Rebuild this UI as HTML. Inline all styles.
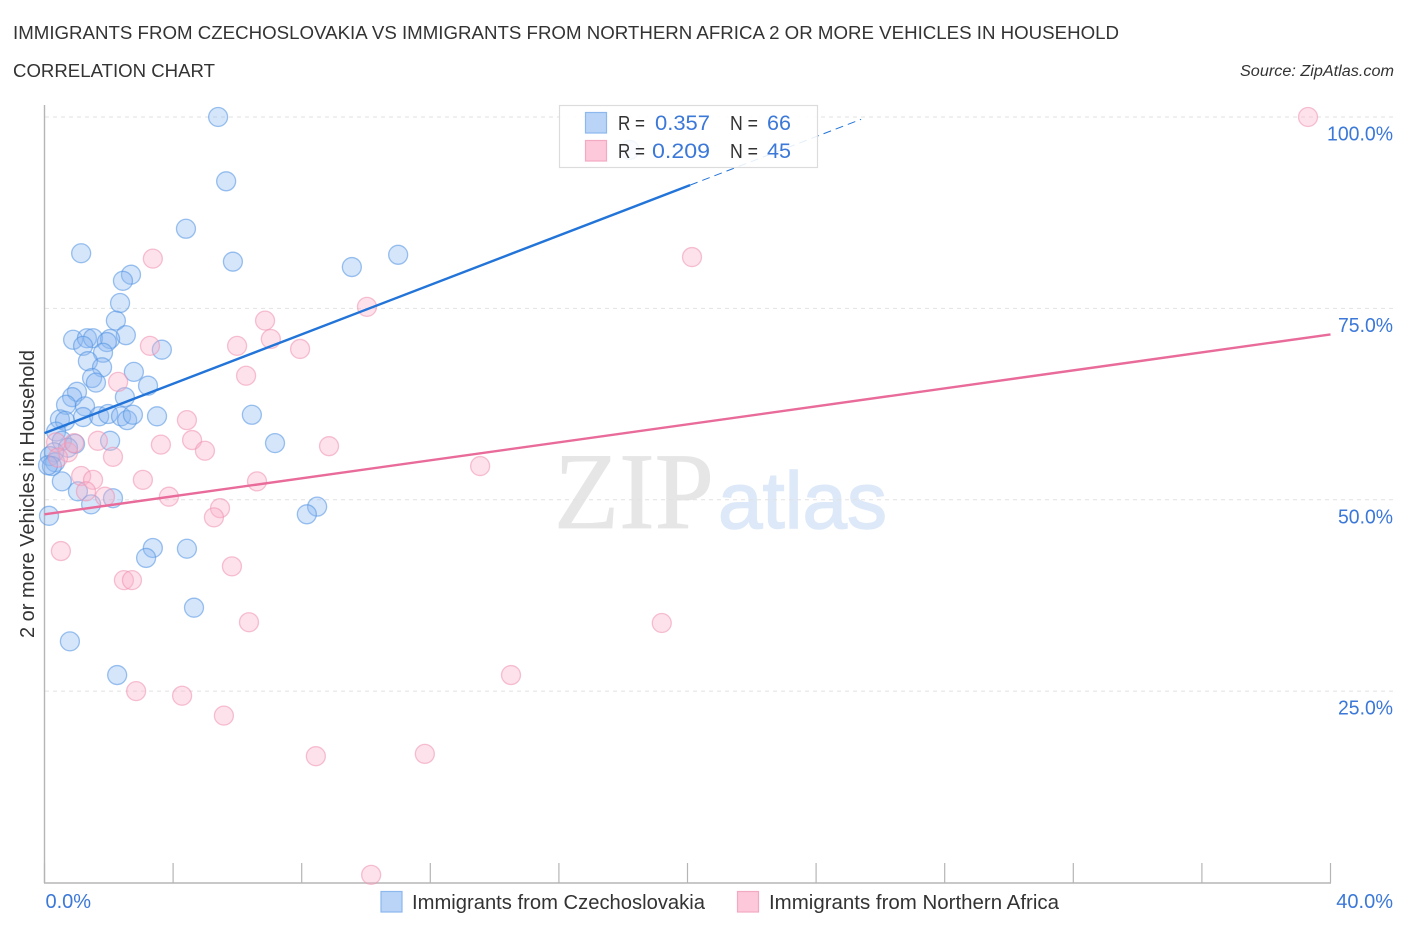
<!DOCTYPE html>
<html lang="en">
<head>
<meta charset="utf-8">
<title>Correlation Chart</title>
<style>
html,body{margin:0;padding:0;background:#fff;}
svg{display:block;font-family:"Liberation Sans",sans-serif;}
</style>
</head>
<body>
<svg id="chart" xmlns="http://www.w3.org/2000/svg" width="1406" height="930" viewBox="0 0 1406 930">
  <rect x="0" y="0" width="1406" height="930" fill="#ffffff"/>
  <text x="13" y="39" font-size="18.5" fill="#333" textLength="1106" lengthAdjust="spacingAndGlyphs">IMMIGRANTS FROM CZECHOSLOVAKIA VS IMMIGRANTS FROM NORTHERN AFRICA 2 OR MORE VEHICLES IN HOUSEHOLD</text>
  <text x="13" y="77" font-size="18.5" fill="#333" textLength="202" lengthAdjust="spacingAndGlyphs">CORRELATION CHART</text>
  <text x="1394" y="76" font-size="15.5" font-style="italic" fill="#333" text-anchor="end" textLength="154" lengthAdjust="spacingAndGlyphs">Source: ZipAtlas.com</text>

  <g>
    <text x="554" y="528" font-family="'Liberation Serif',serif" font-size="109" fill="#e6e6e6" stroke="#e6e6e6" stroke-width="0.8" textLength="160" lengthAdjust="spacingAndGlyphs">ZIP</text>
    <text x="718" y="528" font-size="80" fill="#dde9f8" stroke="#dde9f8" stroke-width="1.4" textLength="169" lengthAdjust="spacingAndGlyphs">atlas</text>
  </g>

  <g id="grid"></g>
  <g id="axes"></g>
  <g id="points-blue"></g>
  <g id="points-pink"></g>
  <g id="trends"></g>

  <g>
    <rect x="559.5" y="105.5" width="258" height="62" fill="#ffffff" fill-opacity="0.88" stroke="#dcdcdc" stroke-width="1.2"/>
    <rect x="585.5" y="112.5" width="21" height="20.5" fill="#b9d4f7" stroke="#8db8ee" stroke-width="1.2"/>
    <rect x="585.5" y="140.5" width="21" height="20.5" fill="#fcc8da" stroke="#f4a9c3" stroke-width="1.2"/>
    <text x="618" y="130" font-size="20" fill="#333" textLength="27" lengthAdjust="spacingAndGlyphs">R =</text>
    <text x="655" y="130" font-size="21" fill="#3b78d8" textLength="55" lengthAdjust="spacingAndGlyphs">0.357</text>
    <text x="730" y="130" font-size="20" fill="#333" textLength="28" lengthAdjust="spacingAndGlyphs">N =</text>
    <text x="767" y="130" font-size="21" fill="#3b78d8" textLength="24" lengthAdjust="spacingAndGlyphs">66</text>
    <text x="618" y="158" font-size="20" fill="#333" textLength="27" lengthAdjust="spacingAndGlyphs">R =</text>
    <text x="652" y="158" font-size="21" fill="#3b78d8" textLength="58" lengthAdjust="spacingAndGlyphs">0.209</text>
    <text x="730" y="158" font-size="20" fill="#333" textLength="28" lengthAdjust="spacingAndGlyphs">N =</text>
    <text x="767" y="158" font-size="21" fill="#3b78d8" textLength="24" lengthAdjust="spacingAndGlyphs">45</text>
  </g>

  <text transform="translate(34,494) rotate(-90)" font-size="20" fill="#333" text-anchor="middle" textLength="288" lengthAdjust="spacingAndGlyphs">2 or more Vehicles in Household</text>

  <g>
    <g>
      <rect x="381" y="891.5" width="21" height="20.5" fill="#b9d4f7" stroke="#8db8ee" stroke-width="1.2"/>
      <text x="412" y="909" font-size="20" fill="#333" textLength="293" lengthAdjust="spacingAndGlyphs">Immigrants from Czechoslovakia</text>
    </g>
    <g>
      <rect x="737.5" y="891.5" width="21" height="20.5" fill="#fcc8da" stroke="#f4a9c3" stroke-width="1.2"/>
      <text x="769" y="909" font-size="20" fill="#333" textLength="290" lengthAdjust="spacingAndGlyphs">Immigrants from Northern Africa</text>
    </g>
  </g>
</svg>
<script>
const blueX = [5.40,5.65,4.40,1.14,5.86,2.69,2.44,2.35,9.56,11.0,2.22,2.53,0.89,1.32,1.51,2.04,1.94,1.20,3.65,1.82,1.35,1.79,2.78,1.48,1.60,3.22,1.01,0.86,2.50,0.67,1.26,0.48,0.64,1.20,1.70,1.98,2.38,2.57,2.75,3.50,6.45,2.04,7.17,0.36,0.54,0.95,0.73,0.30,0.17,0.33,0.23,0.54,1.04,1.45,2.13,8.48,8.16,0.14,3.37,3.16,4.43,4.65,0.79,2.26,18.2,0.11];
const blueY = [100,91.6,85.4,82.2,81.1,79.4,78.6,75.7,80.4,82.0,73.4,71.5,70.9,71.1,71.1,71.0,70.6,70.1,69.6,69.2,68.1,67.3,66.7,65.9,65.3,64.9,64.1,63.4,63.4,62.4,62.2,60.5,60.3,60.8,60.9,61.2,60.9,60.4,61.1,60.9,61.1,57.7,57.4,58.9,57.7,57.3,56.8,56.2,55.7,54.9,54.4,52.4,51.1,49.4,50.2,49.1,48.1,47.9,43.7,42.4,43.6,35.9,31.5,27.1,95.7,54.5];
const pinkX = [39.3,20.14,3.37,10.03,6.86,3.28,5.99,7.04,7.95,2.29,6.27,4.43,1.66,4.59,3.62,4.99,8.85,2.13,13.55,3.06,6.61,1.14,1.51,0.73,0.36,0.42,1.29,1.88,3.87,5.46,5.27,0.51,5.83,2.47,2.72,6.36,19.2,14.51,2.85,4.28,5.58,8.44,11.83,10.16,0.92];
const pinkY = [100,81.7,81.5,75.2,73.4,70.1,70.1,71.0,69.7,65.4,66.2,60.4,57.7,57.8,57.2,56.4,57.0,55.6,54.4,52.6,52.4,53.1,52.6,56.2,57.5,55.5,51.1,50.4,50.4,48.9,47.7,43.3,41.3,39.5,39.5,34.0,33.9,27.1,25.0,24.4,21.8,16.5,16.8,1.0,57.4];
const blueTrendX = [0, 20.08, 25.4];
const blueTrendY = [58.7, 91.1, 99.7];
const pinkTrendX = [0, 40];
const pinkTrendY = [48.1, 71.6];
const yTicks = [25, 50, 75, 100];
const yTickLabels = ["25.0%", "50.0%", "75.0%", "100.0%"];
const xTicks = [0, 4, 8, 12, 16, 20, 24, 28, 32, 36, 40];
const xEndTicks = [0, 40];
const xEndLabels = ["0.0%", "40.0%"];

const NS = "http://www.w3.org/2000/svg";
function sx(v) { return 44.5 + v * 32.15; }
function sy(v) { return 882.5 - v * 7.655; }
function make(tag, parentId, attrs) {
  const el = document.createElementNS(NS, tag);
  for (const k in attrs) el.setAttribute(k, attrs[k]);
  document.getElementById(parentId).appendChild(el);
  return el;
}

yTicks.forEach(function (t, i) {
  const g = make("line", "grid", {x1: 45, x2: 1393, y1: sy(t), y2: sy(t), stroke: "#e2e2e2", "stroke-width": 1, "stroke-dasharray": "4 4"});
  
  
  const lab = make("text", "axes", {x: 1393, y: sy(t) + 23.5, "font-size": 20, fill: "#3b78d8", "text-anchor": "end", "textLength": yTickLabels[i].length * 11, "lengthAdjust": "spacingAndGlyphs"});
  lab.textContent = yTickLabels[i];
  
  
});

const yAxis = make("line", "axes", {x1: 44.5, x2: 44.5, y1: 105, y2: 883, stroke: "#b5b5b5", "stroke-width": 1.4});


const xAxis = make("line", "axes", {x1: 44, x2: 1331, y1: 883, y2: 883, stroke: "#b5b5b5", "stroke-width": 1.4});



xTicks.forEach(function (t) {
  const tick = make("line", "axes", {x1: sx(t), x2: sx(t), y1: 863, y2: 883, stroke: "#b5b5b5", "stroke-width": 1.2});
  
  
});

xEndTicks.forEach(function (t, i) {
  const lab = make("text", "axes", {x: i === 0 ? sx(t) + 1 : 1393, y: 908, "font-size": 20, fill: "#3b78d8", "text-anchor": i === 0 ? "start" : "end"});
  lab.textContent = xEndLabels[i];
  
  
});

blueX.forEach(function (v, i) {
  const c = make("circle", "points-blue", {cx: sx(v), cy: sy(blueY[i]), r: 9.5, fill: "#8ab8f0", "fill-opacity": 0.36, stroke: "#4f92e2", "stroke-opacity": 0.55, "stroke-width": 1.3});
  
  
});

pinkX.forEach(function (v, i) {
  const c = make("circle", "points-pink", {cx: sx(v), cy: sy(pinkY[i]), r: 9.5, fill: "#f9b3cb", "fill-opacity": 0.38, stroke: "#ee8fb0", "stroke-opacity": 0.55, "stroke-width": 1.3});
  
  
});

const blueSolid = make("line", "trends", {x1: sx(blueTrendX[0]), y1: sy(blueTrendY[0]), x2: sx(blueTrendX[1]), y2: sy(blueTrendY[1]), stroke: "#2274d8", "stroke-width": 2.4});


const blueDash = make("line", "trends", {x1: sx(blueTrendX[1]), y1: sy(blueTrendY[1]), x2: sx(blueTrendX[2]), y2: sy(blueTrendY[2]), stroke: "#2274d8", "stroke-width": 1, "stroke-dasharray": "8 5"});


const pinkLine = make("line", "trends", {x1: sx(pinkTrendX[0]), y1: sy(pinkTrendY[0]), x2: sx(pinkTrendX[1]), y2: sy(pinkTrendY[1]), stroke: "#e96b9a", "stroke-width": 2.4});


</script>
</body>
</html>
